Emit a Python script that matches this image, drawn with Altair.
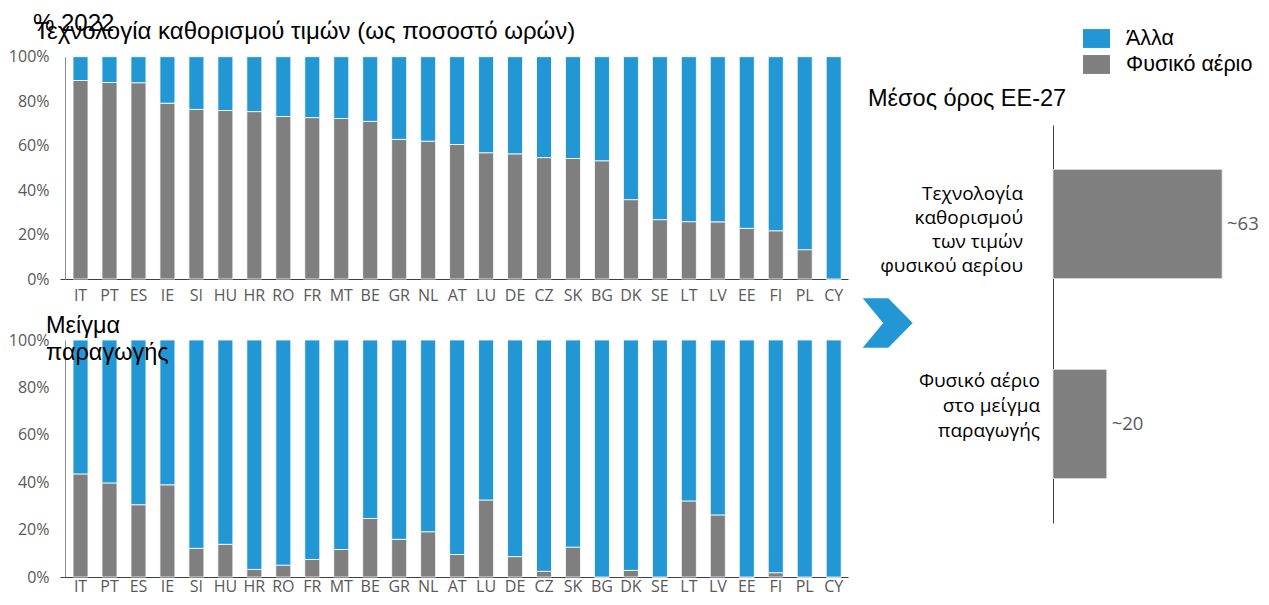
import altair as alt
import pandas as pd

# ---------------- data ----------------
countries = ["IT", "PT", "ES", "IE", "SI", "HU", "HR", "RO", "FR", "MT", "BE", "GR", "NL", "AT",
             "LU", "DE", "CZ", "SK", "BG", "DK", "SE", "LT", "LV", "EE", "FI", "PL", "CY"]
# share of hours in which gas sets the price (%)
gas_price_setting = [89.3, 88.4, 88.3, 79.1, 76.3, 75.8, 75.3, 73.1, 72.6, 72.2, 70.9, 62.8, 62.0, 60.5,
                     56.8, 56.3, 54.6, 54.2, 53.2, 35.7, 26.7, 25.8, 25.7, 22.8, 21.7, 13.2, 0.0]
# share of gas in the generation mix (%)
gas_mix = [43.5, 39.7, 30.5, 38.9, 12.1, 13.8, 3.2, 5.0, 7.4, 11.6, 24.7, 15.9, 19.1, 9.5,
           32.5, 8.6, 2.4, 12.6, 0.0, 2.8, 0.0, 32.1, 26.2, 0.0, 1.8, 0.0, 0.0]
series = ["Άλλα", "Φυσικό αέριο"]
y_ticks = [0, 20, 40, 60, 80, 100]

avg_labels = ["Τεχνολογία\nκαθορισμού\nτων τιμών\nφυσικού αερίου",
              "Φυσικό αέριο\nστο μείγμα\nπαραγωγής"]
avg_values = [63, 20]
avg_text = ["~63", "~20"]

title_text = "Τεχνολογία καθορισμού τιμών (ως ποσοστό ωρών)"
year_text = "% 2022"
mix_text = "Μείγμα\nπαραγωγής"
avg_title = "Μέσος όρος ΕΕ-27"

BLUE = "#2397d3"
GRAY = "#7f7f7f"
LABEL_GRAY = "#595959"


def long_table(gas_values):
    rows = []
    for c, v in zip(countries, gas_values):
        rows.append({"country": c, "series": series[1], "value": v, "ord": 0})
        rows.append({"country": c, "series": series[0], "value": 100 - v, "ord": 1})
    return pd.DataFrame(rows)


legend = alt.Legend(
    title=None, orient="none", legendX=1075, legendY=17,
    symbolType="M-1,-0.7L1,-0.7L1,0.7L-1,0.7Z", symbolSize=729,
    symbolStrokeWidth=0, symbolOpacity=1,
    labelFont="Liberation Sans", labelFontSize=21.5, labelColor="black",
    labelOffset=16, rowPadding=2, padding=0,
)


def stacked(df, yrange, x_off, x_pad):
    return alt.Chart(df).mark_bar(stroke="white", strokeWidth=0.8).encode(
        x=alt.X("country:N", title=None,
                scale=alt.Scale(domain=countries, range=[52, 840], paddingInner=0.482,
                                paddingOuter=0.342, align=0.657),
                axis=alt.Axis(orient="bottom", offset=x_off, ticks=False, labelAngle=0,
                              labelFont="Open Sans", labelFontSize=16, labelColor=LABEL_GRAY,
                              labelPadding=x_pad, domainColor="#404040", labelOverlap=False,
                              grid=False)),
        y=alt.Y("value:Q", stack="zero", title=None,
                scale=alt.Scale(domain=[0, 100], range=yrange, nice=False),
                axis=alt.Axis(orient="left", offset=-57, values=y_ticks,
                              labelExpr="datum.value + '%'", ticks=False, grid=False,
                              labelFont="Open Sans", labelFontSize=16, labelColor=LABEL_GRAY,
                              labelPadding=16, domainColor="#8c8c8c")),
        color=alt.Color("series:N", scale=alt.Scale(domain=series, range=[BLUE, GRAY]),
                        legend=legend),
        order=alt.Order("ord:Q"),
    )


top = stacked(long_table(gas_price_setting), [271, 48.7], -318, 8)
bottom = stacked(long_table(gas_mix), [569, 332], -20, 1)

# ---------------- right panel ----------------
rdf = pd.DataFrame({"cat": avg_labels, "value": avg_values, "txt": avg_text, "i": [0, 1]})
ry = alt.Y("cat:N", title=None,
           scale=alt.Scale(domain=avg_labels, range=[117, 515], paddingInner=0.455,
                           paddingOuter=0.2225),
           axis=alt.Axis(orient="left", offset=-1045, labels=False, ticks=False,
                         domainColor="#404040", grid=False))
rx = alt.X("value:Q", title=None,
           scale=alt.Scale(domain=[0, 100], range=[1045, 1313.3], nice=False), axis=None)

rbars = alt.Chart(rdf).mark_bar(color=GRAY, stroke="#d9d9d9", strokeWidth=0.8).encode(x=rx, y=ry)
rvals = alt.Chart(rdf).mark_text(align="left", baseline="middle", dx=5, font="Open Sans",
                                 fontSize=18.5, color=LABEL_GRAY).encode(x=rx, y=ry, text="txt:N")
rcat1 = alt.Chart(rdf).transform_filter(alt.datum.i == 0).mark_text(
    align="right", baseline="alphabetic", lineBreak="\n", dy=-24, lineHeight=24,
    font="Open Sans", fontSize=19, color="black").encode(x=alt.value(1015), y=ry, text="cat:N")
rcat2 = alt.Chart(rdf).transform_filter(alt.datum.i == 1).mark_text(
    align="right", baseline="alphabetic", lineBreak="\n", dy=-37, lineHeight=25,
    font="Open Sans", fontSize=19, color="black").encode(x=alt.value(1032), y=ry, text="cat:N")
right = alt.layer(rbars, rvals, rcat1, rcat2)


# ---------------- annotations ----------------
def label(text, x, y, size, **kw):
    return alt.Chart(pd.DataFrame({"t": [text]})).mark_text(
        align="left", baseline="alphabetic", font="Liberation Sans", fontSize=size,
        color="black", lineBreak="\n", **kw).encode(text="t:N", x=alt.value(x), y=alt.value(y))


year_lbl = label(year_text, 25, 23, 24)
title_lbl = label(title_text, 27, 31, 24)
mix_lbl = label(mix_text, 38, 325, 23.5, lineHeight=27)
avg_lbl = label(avg_title, 860, 98, 23.5)

chevron = alt.Chart(pd.DataFrame({"k": [0]})).mark_point(
    shape="M-1,-0.99L0.024,-0.99L1,0L0.024,0.99L-1,0.99L-0.18,0Z",
    filled=True, size=2500, color=BLUE, opacity=1, strokeWidth=0,
).encode(x=alt.value(879.7), y=alt.value(315))

chart = alt.layer(
    top, bottom, right, year_lbl, title_lbl, mix_lbl, avg_lbl, chevron
).resolve_scale(x="independent", y="independent").resolve_axis(
    x="independent", y="independent"
).properties(
    width=1253, height=589, padding=0,
    autosize=alt.AutoSizeParams(type="none"),
).configure_view(stroke=None)

chart.save("out.html", embed_options={"renderer": "svg", "actions": False})
